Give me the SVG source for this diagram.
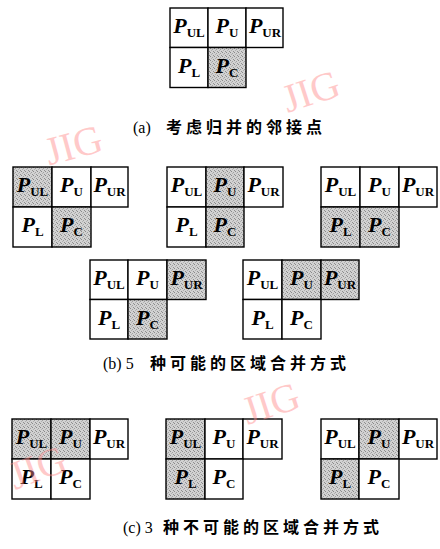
<svg xmlns="http://www.w3.org/2000/svg" width="440" height="549" viewBox="0 0 440 549">
<defs>
<pattern id="dots" width="4" height="4" patternUnits="userSpaceOnUse">
<rect width="4" height="4" fill="#d2d2d2"/>
<rect x="0" y="0" width="1" height="1" fill="#8a8a8a"/>
<rect x="2" y="1" width="1" height="1" fill="#a0a0a0"/>
<rect x="1" y="2" width="1" height="1" fill="#b0b0b0"/>
<rect x="3" y="3" width="1" height="1" fill="#909090"/>
</pattern>
<style>
.c{fill:#fff;stroke:#000;stroke-width:1.4}
.g{fill:url(#dots);stroke:#000;stroke-width:1.4}
.p{font-family:"Liberation Serif",serif;font-style:italic;font-weight:bold;font-size:22px;text-anchor:middle;fill:#000}
.s{font-style:normal;font-size:13px}
.cap{font-family:"Liberation Serif","Noto Sans CJK SC",serif;font-size:16px;fill:#000}
.cj{font-family:"Noto Sans CJK SC",sans-serif;font-size:16px;font-weight:bold;letter-spacing:4px}
.wm{font-family:"Liberation Serif",serif;font-size:40px;fill:#ff8a8a;opacity:0.45}
</style>
</defs>
<rect width="440" height="549" fill="#fff"/>

<!-- (a) -->
<g id="grid-a" transform="translate(170,8)">
<rect class="c" x="0" y="0" width="38" height="39.5"/>
<rect class="c" x="38" y="0" width="38" height="39.5"/>
<rect class="c" x="76" y="0" width="37" height="39.5"/>
<rect class="c" x="0" y="39.5" width="38" height="40"/>
<rect class="g" x="38" y="39.5" width="38" height="40"/>
<text class="p" x="19" y="25">P<tspan class="s" dy="4">UL</tspan></text>
<text class="p" x="57" y="25">P<tspan class="s" dy="4">U</tspan></text>
<text class="p" x="95" y="25">P<tspan class="s" dy="4">UR</tspan></text>
<text class="p" x="19" y="65">P<tspan class="s" dy="4">L</tspan></text>
<text class="p" x="57" y="65">P<tspan class="s" dy="4">C</tspan></text>
</g>
<text id="cap-a" class="cap" x="133" y="133">(a) <tspan class="cj" x="166">考虑归并的邻接点</tspan></text>

<!-- (b) row 1 -->
<g id="grid-b1" transform="translate(13,167)">
<rect class="g" x="0" y="0" width="39" height="40"/>
<rect class="c" x="39" y="0" width="39" height="40"/>
<rect class="c" x="78" y="0" width="37" height="40"/>
<rect class="c" x="0" y="40" width="39" height="40"/>
<rect class="g" x="39" y="40" width="39" height="40"/>
<text class="p" x="19.5" y="25">P<tspan class="s" dy="4">UL</tspan></text>
<text class="p" x="58.5" y="25">P<tspan class="s" dy="4">U</tspan></text>
<text class="p" x="96.5" y="25">P<tspan class="s" dy="4">UR</tspan></text>
<text class="p" x="19.5" y="65">P<tspan class="s" dy="4">L</tspan></text>
<text class="p" x="58.5" y="65">P<tspan class="s" dy="4">C</tspan></text>
</g>
<g id="grid-b2" transform="translate(167,167)">
<rect class="c" x="0" y="0" width="39" height="40"/>
<rect class="g" x="39" y="0" width="38" height="40"/>
<rect class="c" x="77" y="0" width="39" height="40"/>
<rect class="c" x="0" y="40" width="39" height="40"/>
<rect class="g" x="39" y="40" width="38" height="40"/>
<text class="p" x="19.5" y="25">P<tspan class="s" dy="4">UL</tspan></text>
<text class="p" x="58" y="25">P<tspan class="s" dy="4">U</tspan></text>
<text class="p" x="96.5" y="25">P<tspan class="s" dy="4">UR</tspan></text>
<text class="p" x="19.5" y="65">P<tspan class="s" dy="4">L</tspan></text>
<text class="p" x="58" y="65">P<tspan class="s" dy="4">C</tspan></text>
</g>
<g id="grid-b3" transform="translate(321,167)">
<rect class="c" x="0" y="0" width="39" height="40"/>
<rect class="c" x="39" y="0" width="39" height="40"/>
<rect class="c" x="78" y="0" width="38" height="40"/>
<rect class="g" x="0" y="40" width="39" height="40"/>
<rect class="g" x="39" y="40" width="39" height="40"/>
<text class="p" x="19.5" y="25">P<tspan class="s" dy="4">UL</tspan></text>
<text class="p" x="58.5" y="25">P<tspan class="s" dy="4">U</tspan></text>
<text class="p" x="97" y="25">P<tspan class="s" dy="4">UR</tspan></text>
<text class="p" x="19.5" y="65">P<tspan class="s" dy="4">L</tspan></text>
<text class="p" x="58.5" y="65">P<tspan class="s" dy="4">C</tspan></text>
</g>

<!-- (b) row 2 -->
<g id="grid-b4" transform="translate(90,260)">
<rect class="c" x="0" y="0" width="38" height="39.5"/>
<rect class="c" x="38" y="0" width="39" height="39.5"/>
<rect class="g" x="77" y="0" width="39" height="39.5"/>
<rect class="c" x="0" y="39.5" width="38" height="39.5"/>
<rect class="g" x="38" y="39.5" width="39" height="39.5"/>
<text class="p" x="19" y="25">P<tspan class="s" dy="4">UL</tspan></text>
<text class="p" x="57.5" y="25">P<tspan class="s" dy="4">U</tspan></text>
<text class="p" x="96.5" y="25">P<tspan class="s" dy="4">UR</tspan></text>
<text class="p" x="19" y="64.5">P<tspan class="s" dy="4">L</tspan></text>
<text class="p" x="57.5" y="64.5">P<tspan class="s" dy="4">C</tspan></text>
</g>
<g id="grid-b5" transform="translate(243,260)">
<rect class="c" x="0" y="0" width="39" height="39.5"/>
<rect class="g" x="39" y="0" width="39" height="39.5"/>
<rect class="g" x="78" y="0" width="38" height="39.5"/>
<rect class="c" x="0" y="39.5" width="39" height="39.5"/>
<rect class="c" x="39" y="39.5" width="39" height="39.5"/>
<text class="p" x="19.5" y="25">P<tspan class="s" dy="4">UL</tspan></text>
<text class="p" x="58.5" y="25">P<tspan class="s" dy="4">U</tspan></text>
<text class="p" x="97" y="25">P<tspan class="s" dy="4">UR</tspan></text>
<text class="p" x="19.5" y="64.5">P<tspan class="s" dy="4">L</tspan></text>
<text class="p" x="58.5" y="64.5">P<tspan class="s" dy="4">C</tspan></text>
</g>
<text id="cap-b" class="cap" x="103" y="369">(b) 5 <tspan class="cj" x="150">种可能的区域合并方式</tspan></text>

<!-- (c) -->
<g id="grid-c1" transform="translate(12,419)">
<rect class="g" x="0" y="0" width="39" height="40"/>
<rect class="g" x="39" y="0" width="39" height="40"/>
<rect class="c" x="78" y="0" width="38" height="40"/>
<rect class="c" x="0" y="40" width="39" height="40"/>
<rect class="c" x="39" y="40" width="39" height="40"/>
<text class="p" x="19.5" y="25">P<tspan class="s" dy="4">UL</tspan></text>
<text class="p" x="58.5" y="25">P<tspan class="s" dy="4">U</tspan></text>
<text class="p" x="97" y="25">P<tspan class="s" dy="4">UR</tspan></text>
<text class="p" x="19.5" y="65">P<tspan class="s" dy="4">L</tspan></text>
<text class="p" x="58.5" y="65">P<tspan class="s" dy="4">C</tspan></text>
</g>
<g id="grid-c2" transform="translate(166,419)">
<rect class="g" x="0" y="0" width="39" height="40"/>
<rect class="c" x="39" y="0" width="38" height="40"/>
<rect class="c" x="77" y="0" width="39" height="40"/>
<rect class="g" x="0" y="40" width="39" height="40"/>
<rect class="c" x="39" y="40" width="38" height="40"/>
<text class="p" x="19.5" y="25">P<tspan class="s" dy="4">UL</tspan></text>
<text class="p" x="58" y="25">P<tspan class="s" dy="4">U</tspan></text>
<text class="p" x="96.5" y="25">P<tspan class="s" dy="4">UR</tspan></text>
<text class="p" x="19.5" y="65">P<tspan class="s" dy="4">L</tspan></text>
<text class="p" x="58" y="65">P<tspan class="s" dy="4">C</tspan></text>
</g>
<g id="grid-c3" transform="translate(321,419)">
<rect class="c" x="0" y="0" width="38" height="40"/>
<rect class="g" x="38" y="0" width="40" height="40"/>
<rect class="c" x="78" y="0" width="38" height="40"/>
<rect class="g" x="0" y="40" width="38" height="40"/>
<rect class="c" x="38" y="40" width="40" height="40"/>
<text class="p" x="19" y="25">P<tspan class="s" dy="4">UL</tspan></text>
<text class="p" x="58" y="25">P<tspan class="s" dy="4">U</tspan></text>
<text class="p" x="97" y="25">P<tspan class="s" dy="4">UR</tspan></text>
<text class="p" x="19" y="65">P<tspan class="s" dy="4">L</tspan></text>
<text class="p" x="58" y="65">P<tspan class="s" dy="4">C</tspan></text>
</g>
<text id="cap-c" class="cap" x="123" y="533">(c) 3 <tspan class="cj" x="163">种不可能的区域合并方式</tspan></text>

<!-- watermarks -->
<g id="watermarks">
<text class="wm" transform="translate(77,158) rotate(-15)" text-anchor="middle">JIG</text>
<text class="wm" transform="translate(315,104) rotate(-18)" text-anchor="middle">JIG</text>
<text class="wm" transform="translate(275,416) rotate(-18)" text-anchor="middle">JIG</text>
<text class="wm" transform="translate(42,480) rotate(-20)" text-anchor="middle">JIG</text>
</g>
</svg>
